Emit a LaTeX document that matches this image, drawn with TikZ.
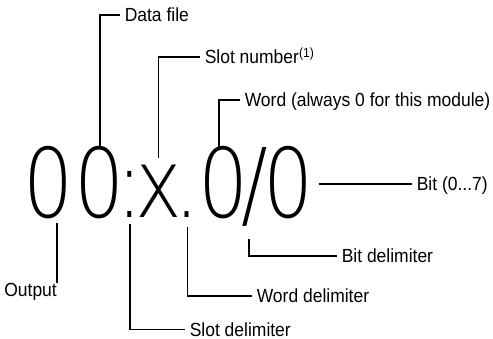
\documentclass[tikz,border=0pt]{standalone}
\usepackage{fontspec}
\setmainfont{Liberation Sans}
\newfontfamily\bigfont{DejaVu Sans ExtraLight}
\usetikzlibrary{calc}

\begin{document}
\begin{tikzpicture}[x=1pt, y=-1pt,
                    big/.style={inner sep=0pt, anchor=base, xscale=0.82, text height=70pt, text depth=0pt,
                                font=\bigfont\fontsize{96}{96}\selectfont},
                    lbl/.style={inner xsep=5pt, inner ysep=0pt, anchor=west, text height=13pt, text depth=0pt,
                                xscale=0.92, font=\fontsize{19}{21}\selectfont},
                    lead/.style={line width=1.6pt}]

\useasboundingbox (0,0) rectangle (493,339);

% Address 00:x.0/0
\node[big] (out) at (49,218) {0};
\node[big] (file) at (100,218) {0};
\node[big] (colon) at (130,218) {:};
\node[big] (slot) at (158.5,218) {x};
\node[big] (dot) at (187.5,218) {.};
\node[big] (word0) at (224,218) {0};
\node[big] (slash) at (254.5,218) {/};
\node[big] (bit0) at (288.5,218) {0};

% Labels above
\node[lbl] (datafile) at (120,15) {Data file};
\node[lbl] (slotnum) at (200,57) {Slot number\textsuperscript{(1)}};
\node[lbl] (word) at (240,100) {Word (always 0 for this module)};
\node[lbl] (bit) at (412,184) {Bit (0...7)};

% Labels below
\node[lbl] (bitdelim) at (337,256) {Bit delimiter};
\node[lbl] (worddelim) at (252,296) {Word delimiter};
\node[lbl] (slotdelim) at (185,329.5) {Slot delimiter};
\node[lbl, anchor=north east, inner sep=0pt] (output) at (57,283) {Output};

% Top leaders
\draw[lead] (file.north) |- (datafile.west);
\draw[lead] ([yshift=-10pt]slot.north) |- (slotnum.west);
\draw[lead] ([xshift=-5pt]word0.north) |- (word.west);
\draw[lead] ([xshift=5pt,yshift=-1pt]bit0.east) -- (bit.west);

% Bottom leaders
\draw[lead] (output.north east) -- ([yshift=-5pt]output.north east |- out.south);
\draw[lead] ([yshift=-6pt]colon.south) |- (slotdelim.west);
\draw[lead] ([yshift=-9pt]dot.south) |- (worddelim.west);
\draw[lead] ([xshift=-5.5pt,yshift=-21pt]slash.south) |- (bitdelim.west);

\end{tikzpicture}
\end{document}
